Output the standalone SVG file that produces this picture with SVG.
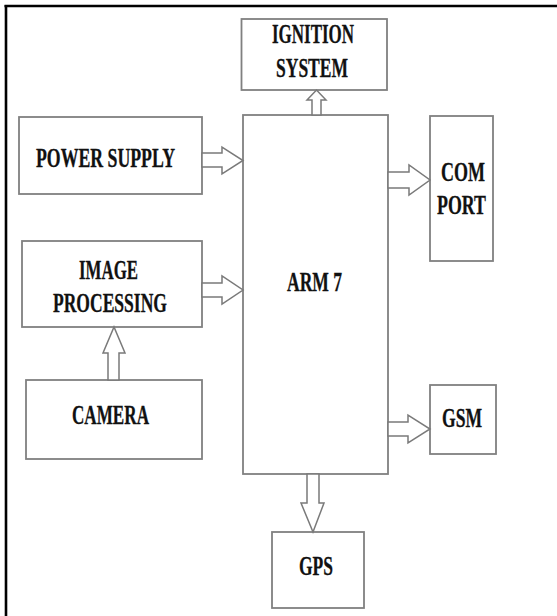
<svg xmlns="http://www.w3.org/2000/svg" width="557" height="616" viewBox="0 0 557 616">
<style>
.box{fill:#fff;stroke:#808080;stroke-width:1.8}
.arr{fill:#fff;stroke:#7a7a7a;stroke-width:1.5;stroke-linejoin:miter}
.t{font-family:"Liberation Serif","Times New Roman",serif;font-weight:bold;font-size:27px;fill:#111;text-anchor:middle;stroke:#111;stroke-width:0.3}
</style>
<rect width="557" height="616" fill="#fff"/>
<g id="frame">
<line x1="4.5" y1="6" x2="557" y2="6" stroke="#000" stroke-width="2.6"/>
<line x1="6" y1="5" x2="6" y2="616" stroke="#000" stroke-width="2.6"/>
</g>
<g id="ignition">
<rect class="box" x="241.5" y="19" width="145.5" height="71"/>
<text class="t" x="313" y="43" textLength="82" lengthAdjust="spacingAndGlyphs">IGNITION</text>
<text class="t" x="312" y="77" textLength="72" lengthAdjust="spacingAndGlyphs">SYSTEM</text>
</g>
<g id="power">
<rect class="box" x="19" y="117" width="183" height="77"/>
<text class="t" x="105.5" y="167" textLength="139" lengthAdjust="spacingAndGlyphs">POWER SUPPLY</text>
</g>
<g id="arm7">
<rect class="box" x="243" y="115" width="145" height="359"/>
<text class="t" x="314.5" y="291" textLength="55" lengthAdjust="spacingAndGlyphs">ARM 7</text>
</g>
<g id="comport">
<rect class="box" x="430" y="116" width="63" height="145"/>
<text class="t" x="463" y="181" textLength="44" lengthAdjust="spacingAndGlyphs">COM</text>
<text class="t" x="461.5" y="214" textLength="49" lengthAdjust="spacingAndGlyphs">PORT</text>
</g>
<g id="imageproc">
<rect class="box" x="22" y="241" width="180" height="86"/>
<text class="t" x="108.5" y="279" textLength="59" lengthAdjust="spacingAndGlyphs">IMAGE</text>
<text class="t" x="110" y="312" textLength="114" lengthAdjust="spacingAndGlyphs">PROCESSING</text>
</g>
<g id="camera">
<rect class="box" x="26" y="380" width="176" height="79"/>
<text class="t" x="110.5" y="424" textLength="77" lengthAdjust="spacingAndGlyphs">CAMERA</text>
</g>
<g id="gsm">
<rect class="box" x="430" y="385" width="66" height="69"/>
<text class="t" x="462" y="427" textLength="40" lengthAdjust="spacingAndGlyphs">GSM</text>
</g>
<g id="gps">
<rect class="box" x="272" y="532" width="92" height="76"/>
<text class="t" x="316" y="575" textLength="34" lengthAdjust="spacingAndGlyphs">GPS</text>
</g>
<g id="connectors">
<polygon class="arr" points="202,153 222,153 222,147 243,160.5 222,174 222,167 202,167"/>
<polygon class="arr" points="202,283 222,283 222,276 243,290 222,304 222,297 202,297"/>
<polygon class="arr" points="388,172 409,172 409,165 430,180 409,195 409,188 388,188"/>
<polygon class="arr" points="388,422 408,422 408,415 430,429 408,443 408,436 388,436"/>
<polygon class="arr" points="312,115 312,100 307,100 316.5,90 326,100 321,100 321,115"/>
<polygon class="arr" points="108,380 108,353 103,353 114,327 125,353 119,353 119,380"/>
<polygon class="arr" points="307,474 307,503 301,503 313,532 324,503 319,503 319,474"/>
</g>
</svg>
